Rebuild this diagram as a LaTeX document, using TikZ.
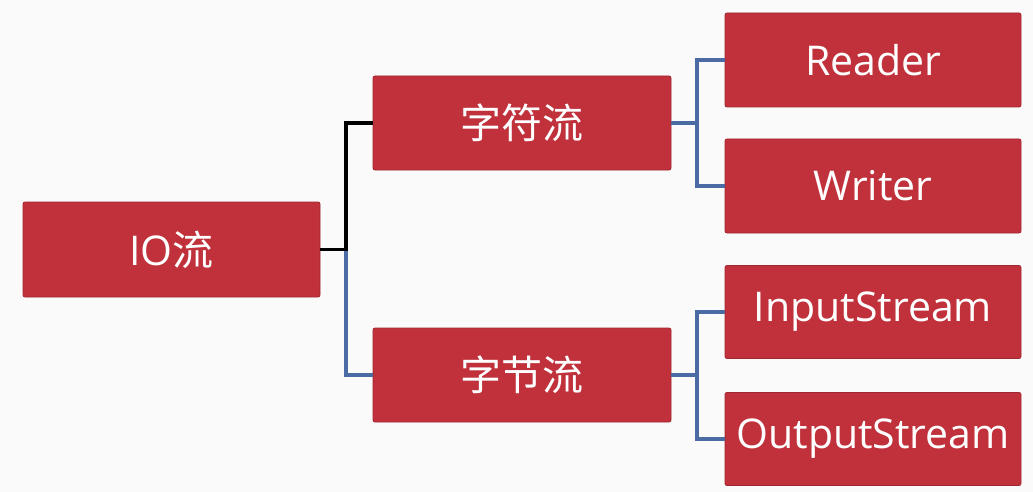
\documentclass[tikz,border=0pt]{standalone}
\usepackage{fontspec}
\setmainfont{Open Sans}
\newfontfamily\cjk{Noto Sans CJK SC}
\definecolor{boxred}{HTML}{C0313B}
\definecolor{boxedge}{HTML}{9E2630}
\definecolor{linkblue}{HTML}{4A6BA3}
\definecolor{bg}{HTML}{FAFAFA}
\begin{document}
\begin{tikzpicture}[x=1pt,y=-1pt,
  box/.style={draw=boxedge, line width=0.8pt, fill=boxred, rounded corners=2pt,
    text=white, font=\fontsize{41}{45}\selectfont, inner sep=0pt},
  cjkbox/.style={box, font=\fontsize{41}{45}\selectfont\cjk},
  bluelink/.style={draw=linkblue, line width=3.5pt},
  blacklink/.style={draw=black, line width=3.5pt}]
\fill[bg] (0,0) rectangle (1033,492);
\useasboundingbox (0,0) rectangle (1033,492);
\node[box, minimum width=297pt, minimum height=95pt] (io) at (171.5,249.5) {IO{\cjk 流}};
\node[cjkbox, minimum width=298pt, minimum height=94pt] (zf) at (522,123) {字符流};
\node[cjkbox, minimum width=298pt, minimum height=94pt] (zj) at (522,375) {字节流};
\node[box, minimum width=296pt, minimum height=94pt] (rd) at (873,60) {Reader};
\node[box, minimum width=296pt, minimum height=94pt] (wr) at (873,186) {Writer};
\node[box, minimum width=296pt, minimum height=93pt] (is) at (873,312) {InputStream};
\node[box, minimum width=296pt, minimum height=93pt] (os) at (873,439) {OutputStream};
\coordinate (j1) at (346,249.5);
\coordinate (j2) at (697,123);
\coordinate (j3) at (697,375);
\draw[bluelink] (j1) |- (zj.west);
\draw[blacklink] (io.east) -- (j1) |- (zf.west);
\draw[bluelink] (zf.east) -- (j2) |- (rd.west);
\draw[bluelink] (j2) |- (wr.west);
\draw[bluelink] (zj.east) -- (j3) |- (is.west);
\draw[bluelink] (j3) |- (os.west);
\end{tikzpicture}
\end{document}
